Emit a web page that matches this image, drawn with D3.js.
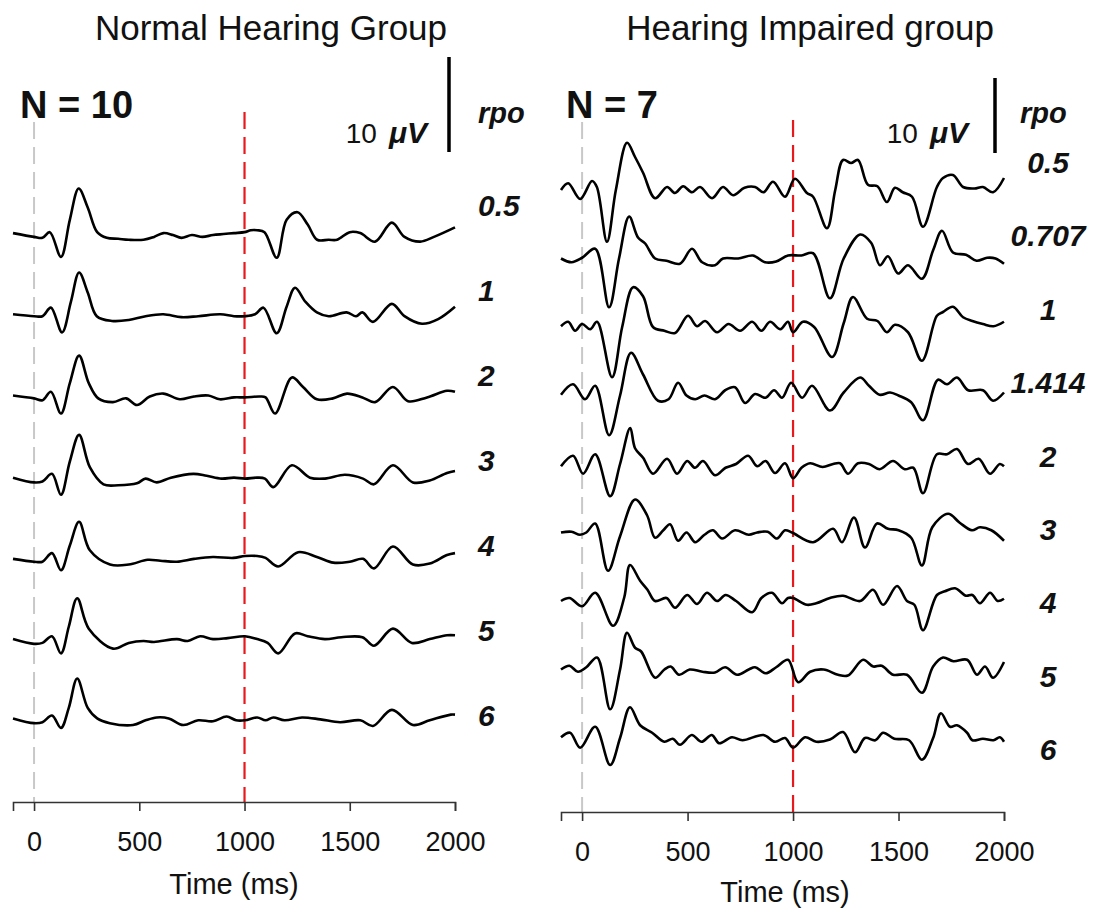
<!DOCTYPE html>
<html>
<head>
<meta charset="utf-8">
<script src="https://cdn.jsdelivr.net/npm/d3@7/dist/d3.min.js"></script>
<style>
  html, body { margin: 0; padding: 0; background: #fff; }
  svg { display: block; font-family: "Liberation Sans", Arial, sans-serif; }
</style>
</head>
<body>
<svg id="chart" width="1101" height="916"></svg>
<script>
// ---------- data: grand-average ERP waveforms, [time ms, amplitude µV] ----------
const timeTicks = [0, 500, 1000, 1500, 2000];
const nhLevels = ["0.5", "1", "2", "3", "4", "5", "6"];
const hiLevels = ["0.5", "0.707", "1", "1.414", "2", "3", "4", "5", "6"];

// Normal hearing group (N = 10)
const nh_0_5 = [[-100,0.2],[0,-0.2],[40,-0.3],[75,0.3],[128,-2.3],[170,1.6],[212,4.9],[255,2.9],[300,0.3],[345,-0.3],[400,-0.4],[450,-0.5],[520,-0.5],[570,-0.2],[615,0.2],[660,0.0],[700,-0.3],[750,0.0],[800,-0.2],[850,0.0],[900,0.1],[950,0.2],[1000,0.3],[1030,0.5],[1060,0.5],[1095,0.3],[1153,-2.4],[1200,1.6],[1252,2.4],[1300,1.1],[1345,-0.5],[1400,-0.5],[1440,-0.5],[1500,0.3],[1550,0.2],[1620,-0.7],[1700,1.3],[1760,-0.2],[1835,-0.7],[1900,-0.2],[2000,0.8]];
const nh_1 = [[-100,0.2],[0,0],[40,0],[80,0.9],[133,-1.7],[175,1.5],[214,4.6],[255,2.5],[298,0],[370,-0.5],[450,-0.4],[530,0],[614,0.2],[700,-0.1],[780,0],[885,0.2],[950,0],[1000,0],[1050,0.2],[1090,0.9],[1153,-1.8],[1200,1.0],[1240,3.0],[1290,1.5],[1344,0.4],[1400,0],[1485,0.4],[1530,0],[1560,0.4],[1610,-0.6],[1700,1.3],[1760,0],[1843,-0.8],[1920,-0.3],[2000,1.0]];
const nh_2 = [[-100,0.2],[0,-0.1],[40,-0.3],[80,0.6],[128,-1.7],[170,1.5],[214,4.4],[260,1.5],[305,-0.1],[375,-0.5],[437,-0.1],[489,-0.8],[550,0.1],[614,0.4],[693,-0.2],[760,0.1],[828,0.2],[883,-0.2],[950,0],[1002,0],[1073,0.1],[1100,0],[1145,-1.7],[1225,2.1],[1278,1.1],[1344,-0.2],[1420,-0.1],[1487,0.4],[1560,0],[1620,-0.5],[1705,1.1],[1777,-0.4],[1867,0],[1962,0.7],[2000,0.6]];
const nh_3 = [[-100,0.1],[0,-0.4],[40,-0.3],[85,0.5],[128,-1.7],[170,1.8],[214,4.6],[265,1.2],[330,-0.6],[400,-0.7],[489,-0.5],[530,0],[583,-0.4],[650,0.1],[757,0.5],[820,0.3],[891,0],[950,0.1],[1002,0],[1060,0.1],[1097,0],[1137,-0.9],[1225,1.4],[1311,0.1],[1382,0],[1477,0.4],[1563,0],[1615,-0.6],[1705,1.4],[1800,-0.4],[1880,-0.2],[1962,0.6],[2000,0.8]];
const nh_4 = [[-100,0.1],[0,-0.2],[40,-0.2],[85,0.7],[128,-1.1],[170,1.5],[214,4.0],[265,1.0],[361,-0.5],[450,-0.5],[540,0],[600,-0.1],[679,-0.2],[760,0.1],[850,0.3],[947,0.2],[1002,0.4],[1060,0.4],[1100,0.2],[1160,-0.7],[1255,0.8],[1344,0.3],[1422,-0.3],[1500,-0.2],[1563,0.1],[1615,-0.9],[1705,1.4],[1800,-0.5],[1880,-0.4],[1962,0.5],[2000,0.7]];
const nh_5 = [[-100,0.2],[0,-0.3],[40,-0.2],[85,0.5],[128,-1.3],[165,1.5],[205,4.5],[260,1.3],[375,-0.8],[450,-0.2],[520,0],[570,-0.1],[679,0.2],[730,0],[789,0.5],[850,0.2],[920,0.3],[1002,0.5],[1060,0.2],[1110,-0.2],[1160,-1.3],[1240,0.8],[1300,0.5],[1382,0.2],[1460,0.4],[1560,0.4],[1615,-0.5],[1705,1.3],[1795,-0.2],[1880,0.2],[1962,0.6],[2000,0.6]];
const nh_6 = [[-100,0.4],[0,-0.1],[40,0],[85,0.7],[128,-0.6],[165,1.5],[205,4.6],[255,1.5],[300,0.4],[360,-0.1],[470,-0.3],[530,0.2],[583,0.5],[640,0.4],[709,-0.3],[780,0.2],[850,0.1],[915,0.6],[960,0.2],[1002,0.2],[1060,0.5],[1100,0.2],[1137,0.5],[1190,0.2],[1273,0.5],[1360,0.3],[1454,0],[1550,0.2],[1610,-0.4],[1700,1.3],[1800,-0.3],[1880,0.2],[1980,0.8],[2000,0.8]];

// Hearing impaired group (N = 7)
const hi_0_5 = [[-100,0],[-66,0.9],[-9,-1.2],[47,1.2],[70,0.4],[118,-6.9],[160,0],[213,6.3],[251,4.4],[289,2.3],[346,-1.1],[403,0.4],[440,-0.4],[479,0.5],[521,-0.3],[559,0.4],[616,-1.1],[668,0.4],[716,-0.7],[770,0.3],[820,0.4],[860,-0.3],[905,1.1],[962,-0.9],[1009,1.5],[1066,-0.4],[1095,-0.9],[1161,-5.1],[1200,0],[1237,4.0],[1275,3.6],[1308,4.0],[1355,0.7],[1400,0.5],[1445,-1.6],[1483,0.3],[1520,-0.3],[1564,-0.9],[1616,-4.9],[1682,0.4],[1711,1.6],[1758,2.0],[1806,0.4],[1860,0.2],[1900,0.4],[1948,-0.3],[2000,1.6]];
const hi_0_707 = [[-100,0],[-50,-0.5],[0,0.1],[62,1.3],[128,-6.5],[175,0],[223,5.6],[265,2.8],[299,2.0],[346,0],[400,-0.3],[464,-0.7],[521,1.3],[569,-0.5],[630,-0.9],[668,0],[740,0],[810,0.4],[867,-0.5],[920,-0.4],[976,0.4],[1040,0.4],[1095,0.7],[1175,-5.3],[1240,0],[1318,3.2],[1370,2.1],[1412,-0.9],[1450,0.3],[1498,-2.0],[1545,-0.9],[1611,-2.7],[1664,1.1],[1706,3.7],[1758,0.8],[1820,0.5],[1870,-0.3],[1920,0.1],[1960,0],[2000,-0.7]];
const hi_1 = [[-100,0.1],[-66,0.7],[-33,-0.5],[0,0.4],[38,-0.3],[71,0.7],[142,-6.7],[190,0],[242,5.3],[289,4.1],[336,0],[390,-0.5],[441,-0.8],[502,1.5],[545,0.1],[583,0.8],[640,-0.7],[694,0.4],[749,-0.5],[806,0.7],[850,-0.5],[891,0.7],[940,-0.3],[976,0.7],[1000,-0.7],[1047,0.7],[1100,0],[1185,-4.0],[1240,0.5],[1284,4.0],[1351,1.1],[1400,0.8],[1445,-0.7],[1483,0.3],[1545,-0.7],[1611,-4.5],[1682,1.5],[1711,2.0],[1758,2.7],[1806,1.3],[1850,0.8],[1900,0.4],[1950,0.1],[2000,0.7]];
const hi_1_414 = [[-100,0.1],[-43,1.5],[14,-0.5],[62,1.3],[128,-5.3],[180,0],[232,5.7],[289,2.8],[360,-0.7],[410,-0.5],[455,1.7],[495,0],[536,-0.5],[580,0],[630,-0.5],[678,0.7],[725,1.1],[773,-1.0],[820,0.2],[870,-0.3],[910,0.7],[948,-0.3],[991,1.7],[1043,-0.3],[1090,1.3],[1175,-2.0],[1240,0.4],[1318,2.4],[1360,1.3],[1410,0.1],[1460,0.4],[1500,0],[1560,-0.9],[1616,-3.3],[1687,2.1],[1730,1.5],[1777,2.4],[1830,0.7],[1900,0.7],[1948,-0.7],[2000,0.4]];
const hi_2 = [[-100,-0.3],[-43,1.1],[5,-1.3],[62,1.3],[133,-4.3],[180,0],[228,4.8],[251,2.1],[290,0.8],[336,-1.3],[403,0.7],[450,-1.3],[498,0.4],[535,-0.5],[573,0.4],[630,-1.5],[680,-0.5],[730,0],[787,1.1],[830,-0.3],[870,0.4],[915,-1.2],[962,0.1],[1000,-1.9],[1040,-0.5],[1081,0.1],[1140,-0.4],[1190,0],[1223,0.1],[1261,-1.3],[1308,0.1],[1360,0],[1410,-0.7],[1474,0.4],[1530,-0.7],[1570,-0.5],[1616,-3.9],[1682,1.3],[1730,1.3],[1777,2.0],[1829,0],[1880,0.7],[1934,-1.3],[1980,0],[2000,-0.3]];
const hi_3 = [[-100,0],[-50,0.1],[-10,-0.3],[20,0],[62,1.2],[123,-5.1],[180,-0.5],[251,4.4],[308,2.3],[346,-0.7],[385,0.3],[417,1.1],[455,-1.1],[495,0],[536,-1.3],[580,-0.3],[620,0.3],[664,-0.8],[725,0.3],[790,-0.3],[830,0],[880,0.1],[924,-0.8],[962,0.3],[995,0],[1095,-1.3],[1190,0.5],[1232,-1.3],[1289,2.0],[1341,-2.0],[1398,1.2],[1450,0.5],[1500,0.3],[1560,-0.7],[1611,-4.4],[1660,0.7],[1735,2.5],[1790,1.3],[1848,0.3],[1886,0.7],[1940,0.3],[2000,-1.1]];
const hi_4 = [[-100,0],[-60,0.4],[0,-0.7],[62,1.1],[147,-3.3],[200,0.5],[227,4.8],[275,2.7],[310,1.5],[346,0],[400,0.4],[441,-0.9],[498,0.8],[545,-0.4],[592,1.1],[640,0],[680,0.8],[730,0],[806,-1.5],[850,0.4],[900,1.1],[948,-0.3],[976,0.4],[1000,0.4],[1066,-0.5],[1110,-0.3],[1175,0.4],[1237,0.7],[1318,0],[1379,1.5],[1427,-0.5],[1493,2.0],[1540,0],[1575,-0.5],[1616,-3.9],[1682,0.8],[1720,1.3],[1768,1.7],[1820,0.7],[1850,0.8],[1886,-0.3],[1934,1.1],[1970,0],[2000,0.3]];
const hi_5 = [[-100,0],[-60,0.5],[-20,-0.3],[20,0.3],[71,1.6],[133,-5.3],[180,0],[213,4.9],[251,2.9],[280,2.4],[346,-1.1],[390,0],[420,0.4],[460,-0.7],[510,0],[570,-0.3],[630,-0.4],[678,0.3],[735,-0.7],[790,0],[820,0.3],[870,-0.5],[920,0.3],[976,1.3],[1024,-1.7],[1081,-0.3],[1145,0],[1213,-0.7],[1260,-0.8],[1332,1.3],[1380,0.4],[1420,0.5],[1474,-0.7],[1540,-0.7],[1611,-3.1],[1664,0.4],[1711,1.6],[1760,1.1],[1825,1.3],[1872,-0.7],[1910,0.4],[1948,-1.1],[2000,1.0]];
const hi_6 = [[-100,0.1],[-57,0.7],[-9,-1.3],[62,1.5],[133,-3.6],[180,0],[227,4.1],[275,1.7],[332,0.7],[390,-0.5],[430,-0.1],[464,-0.9],[520,0.4],[566,-0.5],[615,0.4],[650,-0.7],[710,0.1],[760,-0.3],[860,0.4],[915,-0.5],[962,0],[1000,-1.3],[1057,0.1],[1110,-0.5],[1175,-0.2],[1237,0.8],[1294,-1.9],[1341,0],[1390,-0.3],[1427,0.7],[1480,-0.1],[1550,-0.3],[1611,-2.9],[1664,0],[1701,3.3],[1744,1.5],[1777,1.7],[1825,0.7],[1850,-0.3],[1900,-0.1],[1950,-0.3],[1980,0.1],[2000,-0.5]];

const nhTraces = [nh_0_5, nh_1, nh_2, nh_3, nh_4, nh_5, nh_6];
const hiTraces = [hi_0_5, hi_0_707, hi_1, hi_1_414, hi_2, hi_3, hi_4, hi_5, hi_6];

// ---------- layout ----------
const FONT = '"Liberation Sans", Arial, sans-serif';
const svg = d3.select("#chart");

const panels = [
  {
    title: "Normal Hearing Group", titleX: 271, n: "N = 10", nX: 20,
    levels: nhLevels, traces: nhTraces,
    xRange: [13, 455], axisY: 802,
    firstBase: 235, baseStep: 81.2, pxPer10uV: 95,
    grayTop: 122, redTop: 112,
    barX: 449, barBottom: 152, uvRight: 427,
    rpoX: 478, labelAnchor: "start", labelX: 478, labelTop: 206, labelStep: 85,
    timeX: 234, timeY: 894
  },
  {
    title: "Hearing Impaired group", titleX: 810, n: "N = 7", nX: 566,
    levels: hiLevels, traces: hiTraces,
    xRange: [561, 1004], axisY: 812,
    firstBase: 190, baseStep: 68.5, pxPer10uV: 75,
    grayTop: 122, redTop: 120,
    barX: 995, barBottom: 153, uvRight: 968,
    rpoX: 1020, labelAnchor: "middle", labelX: 1048, labelTop: 163, labelStep: 73.4,
    timeX: 785, timeY: 902
  }
];

panels.forEach(p => {
  const g = svg.append("g");
  const x = d3.scaleLinear().domain([-100, 2000]).range(p.xRange);

  // title
  g.append("text").attr("x", p.titleX).attr("y", 40)
    .attr("text-anchor", "middle").attr("font-size", 35).attr("fill", "#111")
    .text(p.title);

  // group size
  g.append("text").attr("x", p.nX).attr("y", 118)
    .attr("font-size", 38).attr("font-weight", "bold").attr("fill", "#111")
    .text(p.n);

  // stimulus onset and change markers
  g.append("line")
    .attr("x1", x(0)).attr("x2", x(0))
    .attr("y1", p.grayTop).attr("y2", p.axisY)
    .attr("stroke", "#c8c8c8").attr("stroke-width", 2)
    .attr("stroke-dasharray", "17,8");
  g.append("line")
    .attr("x1", x(1000)).attr("x2", x(1000))
    .attr("y1", p.redTop).attr("y2", p.axisY)
    .attr("stroke", "#e8191c").attr("stroke-width", 2.2)
    .attr("stroke-dasharray", "17,8");

  // waveforms, stacked
  p.traces.forEach((trace, i) => {
    const base = p.firstBase + i * p.baseStep;
    const y = d3.scaleLinear().domain([0, 10]).range([base, base - p.pxPer10uV]);
    const line = d3.line()
      .x(d => x(d[0])).y(d => y(d[1]))
      .curve(d3.curveCatmullRom.alpha(0.5));
    g.append("path").datum(trace)
      .attr("d", line)
      .attr("fill", "none").attr("stroke", "#000")
      .attr("stroke-width", 2.6).attr("stroke-linejoin", "round");
  });

  // rpo labels
  p.levels.forEach((lv, i) => {
    g.append("text")
      .attr("x", p.labelX).attr("y", p.labelTop + i * p.labelStep + 10)
      .attr("text-anchor", p.labelAnchor)
      .attr("font-size", 30).attr("font-weight", "bold").attr("font-style", "italic")
      .attr("fill", "#111")
      .text(lv);
  });

  // amplitude scale bar (10 µV)
  const yBar = d3.scaleLinear().domain([0, 10]).range([p.barBottom, p.barBottom - p.pxPer10uV]);
  g.append("line")
    .attr("x1", p.barX).attr("x2", p.barX)
    .attr("y1", yBar(0)).attr("y2", yBar(10))
    .attr("stroke", "#000").attr("stroke-width", 3.5);
  const uv = g.append("text").attr("x", p.uvRight).attr("y", 143)
    .attr("text-anchor", "end").attr("font-size", 28).attr("fill", "#111");
  uv.append("tspan").text("10");
  uv.append("tspan").attr("dx", 12).attr("font-style", "italic").attr("font-size", 30)
    .attr("font-weight", "bold").text("\u03BCV");

  g.append("text").attr("x", p.rpoX).attr("y", 123)
    .attr("font-size", 29).attr("font-weight", "bold").attr("font-style", "italic")
    .attr("fill", "#111").text("rpo");

  // time axis
  const axis = d3.axisBottom(x).tickValues(timeTicks).tickSize(9).tickPadding(21)
    .tickFormat(d3.format("d"));
  const ax = g.append("g").attr("transform", `translate(0,${p.axisY})`).call(axis);
  ax.select(".domain").attr("stroke", "#333").attr("stroke-width", 1.6);
  ax.selectAll(".tick line").attr("stroke", "#333").attr("stroke-width", 1.6);
  ax.selectAll(".tick text").attr("font-size", 27).attr("font-family", FONT).attr("fill", "#111");

  g.append("text").attr("x", p.timeX).attr("y", p.timeY)
    .attr("text-anchor", "middle").attr("font-size", 29).attr("fill", "#111")
    .text("Time (ms)");
});
</script>
</body>
</html>
